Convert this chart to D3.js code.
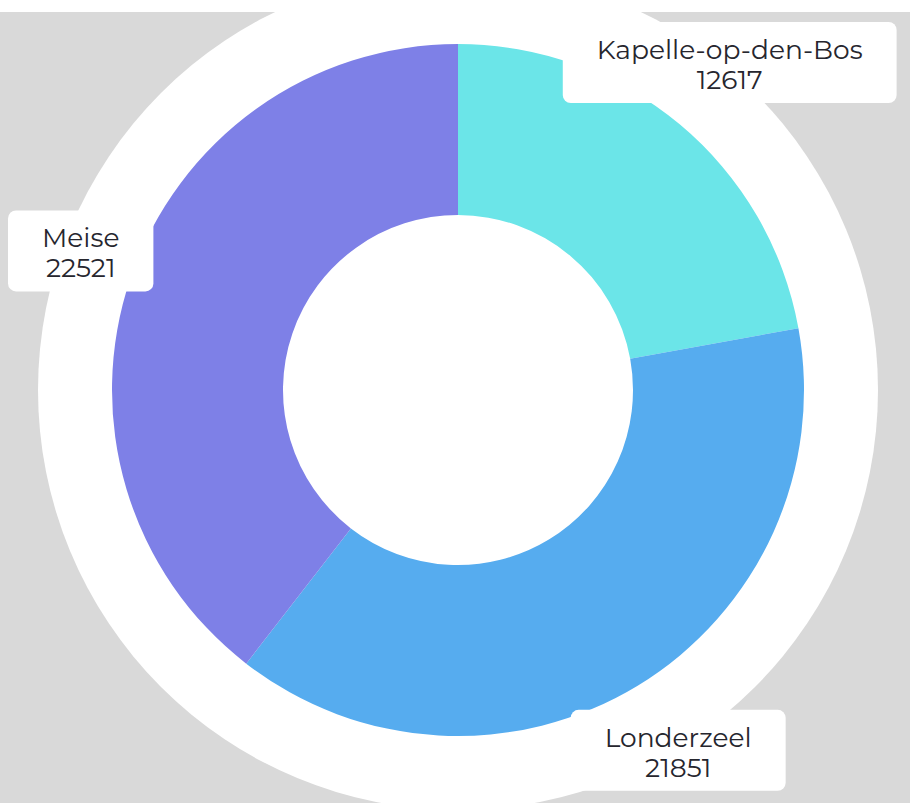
<!DOCTYPE html>
<html>
<head>
<meta charset="utf-8">
<script src="https://cdn.jsdelivr.net/npm/d3@7"></script>
<style>
  html, body { margin: 0; padding: 0; background: #fff; }
  svg { display: block; }
</style>
</head>
<body>
<svg width="910" height="803"></svg>
<script>
const names = ['Kapelle-op-den-Bos', 'Londerzeel', 'Meise'];
const values = [12617, 21851, 22521];
const colors = ['#6be5e8', '#56acef', '#7e80e7'];

const svg = d3.select('svg');
const width = +svg.attr('width');
const height = +svg.attr('height');

const cx = 458, cy = 390;
const outerR = 346, innerR = 175, haloR = 420, labelR = 424;

// grey plot area
svg.append('rect')
  .attr('x', 0).attr('y', 12)
  .attr('width', width).attr('height', height - 12)
  .attr('fill', '#d9d9d9');

const g = svg.append('g').attr('transform', `translate(${cx},${cy})`);

g.append('circle').attr('r', haloR).attr('fill', '#fff');

const data = names.map((n, i) => ({ name: n, value: values[i], color: colors[i] }));

const pie = d3.pie().value(d => d.value).sort(null);
const arc = d3.arc().innerRadius(innerR).outerRadius(outerR);
const arcs = pie(data);

g.selectAll('path.slice').data(arcs)
  .enter().append('path')
    .attr('class', 'slice')
    .attr('d', arc)
    .attr('fill', d => d.data.color);

// labels
const labelArc = d3.arc().innerRadius(labelR).outerRadius(labelR);
const labels = g.selectAll('g.label').data(arcs)
  .enter().append('g').attr('class', 'label');

labels.each(function(d) {
  const lg = d3.select(this);
  const rect = lg.append('rect').attr('fill', '#fff').attr('rx', 8);
  const txt = lg.append('text')
    .attr('text-anchor', 'middle')
    .attr('fill', '#26262e')
    .style('font-family', 'Montserrat, Inter, "Open Sans", sans-serif')
    .style('font-size', '26.5px');
  txt.append('tspan').attr('x', 0).attr('y', -5.5).text(d.data.name);
  txt.append('tspan').attr('x', 0).attr('y', 24.5).text(d.data.value);
  const bb = txt.node().getBBox();
  const padX = 34;
  const w = bb.width + padX * 2;
  let [lx, ly] = labelArc.centroid(d);
  // keep label inside the chart
  const minX = 8 - cx + w / 2;
  if (lx < minX) lx = minX;
  lg.attr('transform', `translate(${lx},${ly})`);
  rect.attr('x', -w / 2).attr('y', -42.5).attr('width', w).attr('height', 81);
});
</script>
</body>
</html>
